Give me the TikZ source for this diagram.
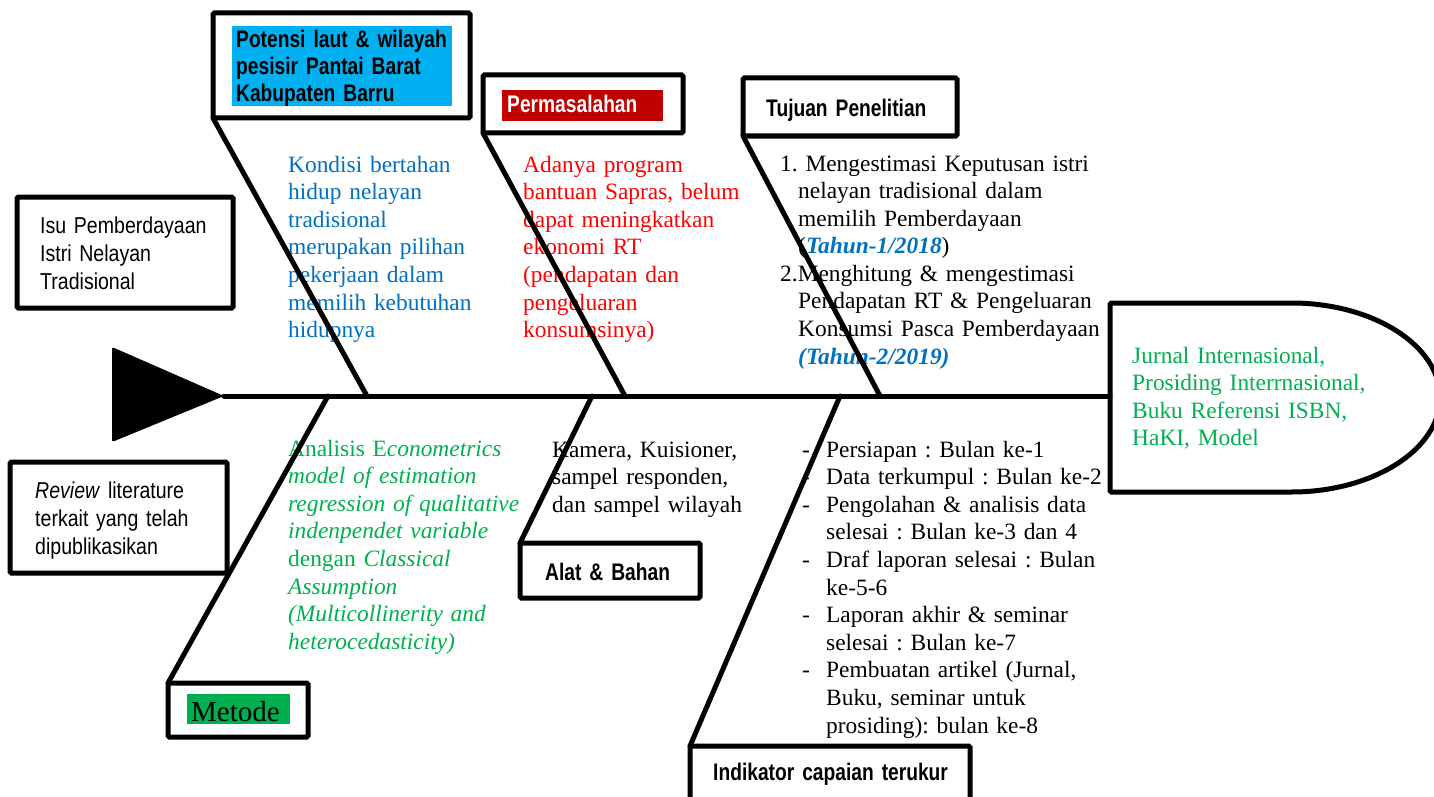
\documentclass[tikz,border=0pt]{standalone}
\usepackage{fontspec}
\setmainfont{Liberation Serif}
\newfontfamily\narrowsans[FakeStretch=0.85]{Liberation Sans}
\newfontfamily\narrowbold[FakeStretch=0.8,WordSpace=0.6]{Liberation Sans}
\usepackage{tikz}
\usetikzlibrary{positioning}
\definecolor{textblue}{HTML}{0070C0}
\definecolor{skyblue}{HTML}{00B0F0}
\definecolor{darkred}{HTML}{C00000}
\definecolor{brightred}{HTML}{FF0000}
\definecolor{leafgreen}{HTML}{00B050}
\tikzset{
  box/.style={draw,line width=5pt,rounded corners=1.5pt,outer sep=0pt,inner sep=0pt,anchor=north west},
  tag/.style={fill=#1,anchor=north west,inner sep=0pt},
  bone/.style={line width=5pt,line cap=round},
  bodytext/.style={anchor=base west,inner sep=0pt,align=left,text width=330pt,font=\frenchspacing\fontsize{23.4}{27.6}\selectfont},
  title/.style={anchor=base west,inner sep=0pt,align=left,text width=330pt,font=\narrowbold\bfseries\fontsize{24}{27}\selectfont},
  plain/.style={anchor=base west,inner sep=0pt,align=left,text width=200pt,font=\narrowsans\fontsize{23}{28}\selectfont},
}
\newcommand{\dashitem}{\makebox[24pt][l]{-}}
\newcommand{\cont}{\hspace*{24pt}}

\begin{document}
\begin{tikzpicture}[x=1pt,y=-1pt]
  \useasboundingbox (0,0) rectangle (1434,797);
  % boxes
  \node[box,minimum width=257pt,minimum height=105pt] (potensi) at (213,13) {};
  \node[tag=skyblue,minimum width=220pt,minimum height=80pt] (potensiFill) at (232,26) {};
  \node[title] (potensiTxt) at (236,48) {Potensi laut \& wilayah\\pesisir Pantai Barat\\Kabupaten Barru};
  \node[box,minimum width=200pt,minimum height=58pt] (masalah) at (483,75) {};
  \node[tag=darkred,minimum width=161pt,minimum height=31pt] (masalahFill) at (502,90) {};
  \node[title,text=white] (masalahTxt) at (507,113) {Permasalahan};
  \node[box,minimum width=214pt,minimum height=58pt] (tujuan) at (743,78) {};
  \node[title] (tujuanTxt) at (766,117) {Tujuan Penelitian};
  \node[box,minimum width=216pt,minimum height=111pt] (isu) at (17,197) {};
  \node[plain] (isuTxt) at (40,233) {Isu Pemberdayaan\\Istri Nelayan\\Tradisional};
  \node[box,minimum width=217pt,minimum height=111pt] (review) at (10,462) {};
  \node[plain] (reviewTxt) at (35,498) {\textit{Review} literature\\terkait yang telah\\dipublikasikan};
  \node[box,minimum width=140pt,minimum height=54pt] (metode) at (168,683) {};
  \node[tag=leafgreen,minimum width=103pt,minimum height=30pt] (metodeFill) at (187,694) {};
  \node[anchor=base west,inner sep=0pt,font=\fontsize{29}{32}\selectfont] (metodeTxt) at (191,721) {Metode};
  \node[box,minimum width=180pt,minimum height=55pt] (alat) at (520,543) {};
  \node[title] (alatTxt) at (545,580) {Alat \& Bahan};
  \node[box,minimum width=280pt,minimum height=62pt] (indikator) at (690,746) {};
  \node[title] (indikatorTxt) at (713,780) {Indikator capaian terukur};
  % texts
  \node[bodytext,text=textblue] (kondisi) at (288,172) {Kondisi bertahan\\hidup nelayan\\tradisional\\merupakan pilihan\\pekerjaan dalam\\memilih kebutuhan\\hidupnya};
  \node[bodytext,text=brightred] (program) at (523,172) {Adanya program\\bantuan Sapras, belum\\dapat meningkatkan\\ekonomi RT\\(pendapatan dan\\pengeluaran\\konsumsinya)};
  \node[bodytext] (tujuanList) at (780,171) {1. Mengestimasi Keputusan istri\\\hspace*{18pt}nelayan tradisional dalam\\\hspace*{18pt}memilih Pemberdayaan\\\hspace*{18pt}(\textcolor{textblue}{\textbf{\textit{Tahun-1/2018}}})\\2.Menghitung \& mengestimasi\\\hspace*{18pt}Pendapatan RT \& Pengeluaran\\\hspace*{18pt}Konsumsi Pasca Pemberdayaan\\\hspace*{18pt}\textcolor{textblue}{\textbf{\textit{(Tahun-2/2019)}}}};
  \node[bodytext,text=leafgreen] (analisis) at (288,456) {Analisis E\textit{conometrics}\\\textit{model of estimation}\\\textit{regression of qualitative}\\\textit{indenpendet variable}\\dengan \textit{Classical}\\\textit{Assumption}\\\textit{(Multicollinerity and}\\\textit{heterocedasticity)}};
  \node[bodytext] (kamera) at (552,457) {Kamera, Kuisioner,\\sampel responden,\\dan sampel wilayah};
  \node[bodytext] (jadwal) at (802,457) {\dashitem Persiapan : Bulan ke-1\\\dashitem Data terkumpul : Bulan ke-2\\\dashitem Pengolahan \& analisis data\\\cont selesai : Bulan ke-3 dan 4\\\dashitem Draf laporan selesai : Bulan\\\cont ke-5-6\\\dashitem Laporan akhir \& seminar\\\cont selesai : Bulan ke-7\\\dashitem Pembuatan artikel (Jurnal,\\\cont Buku, seminar untuk\\\cont prosiding): bulan ke-8};
  \node[bodytext,text=leafgreen] (luaran) at (1132,363) {Jurnal Internasional,\\Prosiding Interrnasional,\\Buku Referensi ISBN,\\HaKI, Model};
  % spine, tail and head
  \coordinate (tip) at (224,396);
  \coordinate (headL) at (1110,396);
  \fill[rounded corners=2pt] (112,347) -- (tip) -- (112,442) -- cycle;
  \draw[bone] (tip) -- (headL);
  \draw[line width=5pt,rounded corners=1.5pt] (1110,303) -- (1290,303)
    arc[start angle=-90,end angle=90,x radius=150,y radius=94.5] -- (1110,492) -- cycle;
  % bones
  \coordinate (up1) at (367,396);
  \coordinate (up2) at (625,396);
  \coordinate (up3) at (880,396);
  \coordinate (dn1) at (328,396);
  \coordinate (dn2) at (592,396);
  \coordinate (dn3) at (840,396);
  \draw[bone] (potensi.south west) -- (up1);
  \draw[bone] (masalah.south west) -- (up2);
  \draw[bone] (tujuan.south west) -- (up3);
  \draw[bone] (dn1) -- (metode.north west);
  \draw[bone] (dn2) -- (alat.north west);
  \draw[bone] (dn3) -- (indikator.north west);
\end{tikzpicture}
\end{document}
